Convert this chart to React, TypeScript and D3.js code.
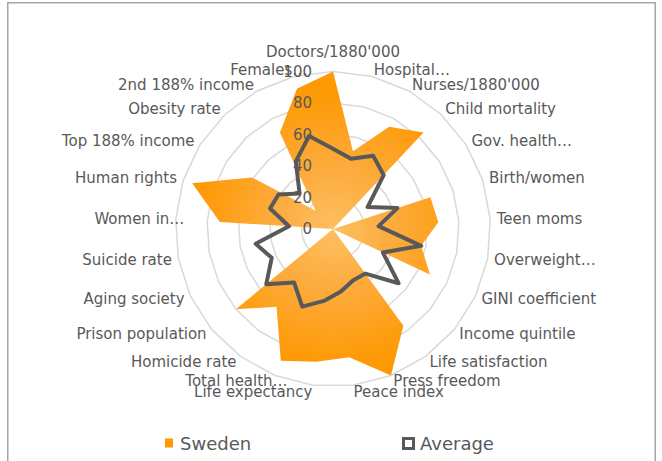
import React from 'react';
import * as d3 from 'd3';

const categories = [
  "Doctors/1880'000", 'Hospital…', "Nurses/1880'000", 'Child mortality', 'Gov. health…',
  'Birth/women', 'Teen moms', 'Overweight…', 'GINI coefficient', 'Income quintile',
  'Life satisfaction', 'Press freedom', 'Peace index', 'Life expectancy', 'Total health…',
  'Homicide rate', 'Prison population', 'Aging society', 'Suicide rate', 'Women in…',
  'Human rights', 'Top 188% income', 'Obesity rate', '2nd 188% income', 'Females…',
];

const sweden = [100, 51, 74, 84, 0, 65, 67, 57, 68, 0, 76, 100, 82, 85, 90, 61, 80, 0, 0, 72, 94, 61, 16, 70, 92];
const average = [51, 46, 53, 47, 26, 43, 29, 57, 35, 54, 35, 35, 40, 46, 53, 42, 55, 43, 50, 28, 42, 41, 31, 49, 61];

const ticks = [0, 20, 40, 60, 80, 100];

const W = 662, H = 461;
const cx = 333, cy = 229;
const R = 157.5;
const font = "'DejaVu Sans', sans-serif";
const textColor = '#595959';

export default function App() {
  const n = categories.length;
  const step = (2 * Math.PI) / n;
  const r = d3.scaleLinear().domain([0, 100]).range([0, R]);

  const radial = d3.lineRadial<number>()
    .angle((_, i) => i * step)
    .radius((d) => r(d))
    .curve(d3.curveLinearClosed);

  const ring = (v: number) => radial(categories.map(() => v)) || '';

  const labelR = 164;

  return (
    <svg width={W} height={H} style={{ position: 'absolute', left: 0, top: 0 }}>
      <defs>
        <radialGradient id="sweGrad" gradientUnits="userSpaceOnUse" cx={0} cy={0} r={R}>
          <stop offset="0" stopColor="#fdbf62" />
          <stop offset="0.4" stopColor="#fdab3c" />
          <stop offset="0.85" stopColor="#fe9a06" />
          <stop offset="1" stopColor="#fe9900" />
        </radialGradient>
      </defs>
      <rect x={0} y={0} width={W} height={H} fill="#fff" />
      <rect x={7.75} y={2.75} width={647.5} height={500} fill="none" stroke="#a6a6a6" strokeWidth={1.5} />

      <g transform={`translate(${cx},${cy})`}>
        {ticks.filter((t) => t > 0).map((t) => (
          <path key={t} d={ring(t)} fill="none" stroke="#d9d9d9" strokeWidth={1.5} />
        ))}
        <path d={radial(sweden) || ''} fill="url(#sweGrad)" />
        <path d={radial(average) || ''} fill="none"
          stroke="#595959" strokeWidth={4} strokeLinejoin="round" />
      </g>

      {ticks.map((t) => (
        <text key={t} x={cx - 21} y={cy - r(t)} textAnchor="end" dominantBaseline="central"
          fontFamily={font} fontSize={15} fill={textColor}>{t}</text>
      ))}

      {categories.map((c, i) => {
        const a = i * step;
        const s = Math.sin(a), co = Math.cos(a);
        let x = cx + labelR * s;
        let y = cy - labelR * co;
        let anchor = 'middle';
        if (s > 0.01) anchor = 'start';
        else if (s < -0.01) {
          anchor = 'end';
          // truncated labels keep their full-width box, so they sit a bit inward
          if (c.endsWith('…')) x += 15;
        } else if (co > 0) y -= 13;
        return (
          <text key={c} x={x} y={y} textAnchor={anchor} dominantBaseline="central"
            fontFamily={font} fontSize={15} fill={textColor}>{c}</text>
        );
      })}

      <g fontFamily={font} fontSize={18} fill={textColor}>
        <rect x={165} y={438.5} width={8} height={9} fill="#fe9900" />
        <text x={180} y={443} dominantBaseline="central">Sweden</text>
        <rect x={403.5} y={438.5} width={10} height={10} fill="#fff" stroke="#595959" strokeWidth={3} />
        <text x={420} y={443} dominantBaseline="central">Average</text>
      </g>
    </svg>
  );
}
